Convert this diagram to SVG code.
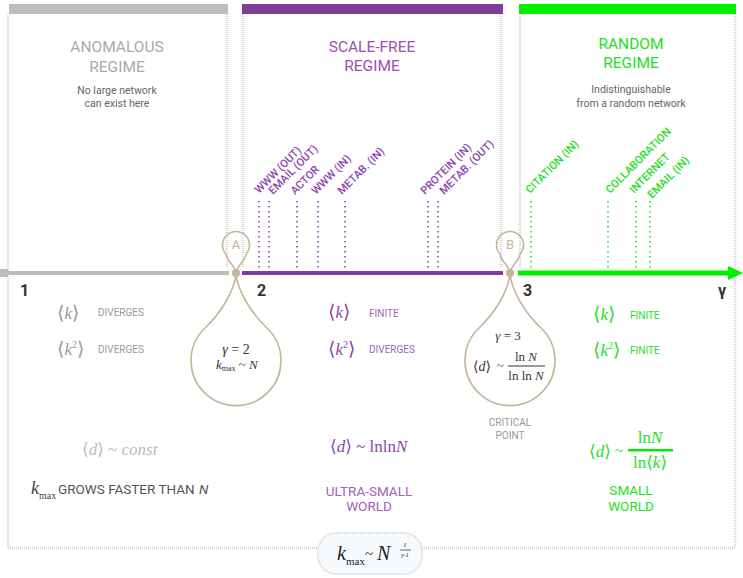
<svg xmlns="http://www.w3.org/2000/svg" width="743" height="578" viewBox="0 0 743 578">
<defs>
<style>
.sans{font-family:Roboto,"DejaVu Sans",sans-serif}
.m{font-family:"Liberation Serif","DejaVu Serif",serif}
.it{font-style:italic}
.br{font-family:"DejaVu Serif","Liberation Serif",serif;font-weight:normal}
.title{font-family:Roboto,"DejaVu Sans",sans-serif;font-size:15.5px;font-weight:normal;text-anchor:middle}
.sub{font-family:Roboto,"DejaVu Sans",sans-serif;font-size:10.5px;fill:#666;text-anchor:middle}
.lab{font-family:Roboto,"DejaVu Sans",sans-serif;font-size:10px}
.rot{font-family:Roboto,"DejaVu Sans",sans-serif;font-size:11px;font-weight:500}
.border{stroke:#d6d6d6;stroke-width:2.5;stroke-dasharray:1 1;fill:none}
.pdot{stroke:#8e44ad;stroke-width:1.6;stroke-dasharray:1.6 3.4}
.gdot{stroke:#22e622;stroke-width:1.6;stroke-dasharray:1.6 3.4}
.loop{fill:none;stroke:#c4b59b;stroke-width:1.6}
.tan{fill:#c4b59b}
.gray{fill:#999}
.purp{fill:#8e44ad}
.purl{fill:#a45fc0}
.grn{fill:#1ee01e}
.axn{font-family:Roboto,"DejaVu Sans",sans-serif;font-size:16px;font-weight:bold;fill:#333}
.world{font-family:Roboto,"DejaVu Sans",sans-serif;font-size:13.5px;text-anchor:middle}
</style>
</defs>
<rect width="743" height="578" fill="#ffffff"/>

<!-- panels -->
<g id="panel-anomalous">
<line class="border" x1="8" y1="14" x2="8" y2="548"/>
<line class="border" x1="227" y1="14" x2="227" y2="268"/>
<rect x="9" y="4" width="219" height="10" fill="#bdbdbd"/>
<text class="title" x="117" y="52" fill="#aaaaaa">ANOMALOUS</text>
<text class="title" x="117" y="72" fill="#aaaaaa">REGIME</text>
<text class="sub" x="117" y="94">No large network</text>
<text class="sub" x="117" y="107">can exist here</text>
</g>
<g id="panel-scalefree">
<line class="border" x1="243" y1="14" x2="243" y2="268"/>
<line class="border" x1="501" y1="14" x2="501" y2="268"/>
<rect x="242" y="4" width="261" height="10" fill="#7e3d96"/>
<text class="title" x="372" y="52" fill="#9a4fb6">SCALE-FREE</text>
<text class="title" x="372" y="71" fill="#9a4fb6">REGIME</text>
</g>
<g id="panel-random">
<line class="border" x1="520" y1="14" x2="520" y2="268"/>
<line class="border" x1="735" y1="14" x2="735" y2="548"/>
<rect x="519" y="4" width="217" height="10" fill="#00f000"/>
<text class="title" x="631" y="49" fill="#1ee01e">RANDOM</text>
<text class="title" x="631" y="68" fill="#1ee01e">REGIME</text>
<text class="sub" x="631" y="93">Indistinguishable</text>
<text class="sub" x="631" y="107">from a random network</text>
</g>
<g id="bottom-border">
<line class="border" x1="8" y1="548" x2="318" y2="548"/>
<line class="border" x1="422" y1="548" x2="735" y2="548"/>
</g>

<!-- axis -->
<g id="axis">
<rect x="0" y="269" width="8" height="8" fill="#bdbdbd"/>
<line x1="8" y1="273" x2="229" y2="273" stroke="#bdbdbd" stroke-width="4"/>
<line x1="242" y1="273" x2="503" y2="273" stroke="#7e3d96" stroke-width="4"/>
<line x1="518" y1="273" x2="730" y2="273" stroke="#00f000" stroke-width="5"/>
<polygon points="728,266 743,273 728,280" fill="#00f000"/>
<text class="axn" x="20" y="296">1</text>
<text class="axn" x="257" y="296">2</text>
<text class="axn" x="523" y="296">3</text>
<text class="axn" x="718" y="296">γ</text>
</g>

<!-- network markers -->
<g id="connectors">
<line class="pdot" x1="259" y1="201" x2="259" y2="270"/>
<line class="pdot" x1="269" y1="201" x2="269" y2="270"/>
<line class="pdot" x1="297" y1="201" x2="297" y2="270"/>
<line class="pdot" x1="318" y1="201" x2="318" y2="270"/>
<line class="pdot" x1="345" y1="201" x2="345" y2="270"/>
<line class="pdot" x1="428" y1="201" x2="428" y2="270"/>
<line class="pdot" x1="438" y1="201" x2="438" y2="270"/>
<line class="gdot" x1="531" y1="201" x2="531" y2="270"/>
<line class="gdot" x1="608" y1="201" x2="608" y2="270"/>
<line class="gdot" x1="636" y1="201" x2="636" y2="270"/>
<line class="gdot" x1="650" y1="201" x2="650" y2="270"/>
</g>
<g id="labels-sf" class="rot" fill="#8e44ad">
<text transform="translate(259,194) rotate(-45)">WWW (OUT)</text>
<text transform="translate(273,195) rotate(-45)">EMAIL (OUT)</text>
<text transform="translate(295,195) rotate(-45)">ACTOR</text>
<text transform="translate(316,195) rotate(-45)">WWW (IN)</text>
<text transform="translate(342,195) rotate(-45)">METAB. (IN)</text>
<text transform="translate(425,195) rotate(-45)">PROTEIN (IN)</text>
<text transform="translate(444,195) rotate(-45)">METAB. (OUT)</text>
</g>
<g id="labels-rand" class="rot" fill="#1ee01e">
<text transform="translate(530,194) rotate(-45)">CITATION (IN)</text>
<text transform="translate(610,194) rotate(-45)">COLLABORATION</text>
<text transform="translate(634,194) rotate(-45)">INTERNET</text>
<text transform="translate(652,199) rotate(-45)">EMAIL (IN)</text>
</g>

<!-- point A -->
<g id="point-A">
<path class="loop" d="M236,273 C235,265 227,262 226,254 A13.5,13.5 0 1 1 246,254 C245,262 237,265 236,273 Z"/>
<path class="loop" d="M236,273 C235,290 221,313 205,328 A45,45 0 1 0 267,328 C251,313 237,290 236,273 Z"/>
<circle cx="236" cy="273" r="4.2" class="tan"/>
<text class="sans tan" x="236" y="249" font-size="13" text-anchor="middle">A</text>
<text class="m" x="236" y="354" font-size="14" text-anchor="middle" fill="#333"><tspan class="it">γ</tspan> = 2</text>
<text class="m" x="216" y="369" font-size="13" fill="#333"><tspan class="it">k</tspan><tspan font-size="8" dy="2">max</tspan><tspan dy="-2"> ~ </tspan><tspan class="it">N</tspan></text>
</g>

<!-- point B -->
<g id="point-B">
<path class="loop" d="M510,273 C509,265 501,262 500,254 A13.5,13.5 0 1 1 520,254 C519,262 511,265 510,273 Z"/>
<path class="loop" d="M510,273 C509,290 495,313 479,328 A45,45 0 1 0 541,328 C525,313 511,290 510,273 Z"/>
<circle cx="510" cy="273" r="4.2" class="tan"/>
<text class="sans tan" x="510" y="249" font-size="13" text-anchor="middle">B</text>
<text class="m" x="508" y="340" font-size="13" text-anchor="middle" fill="#333"><tspan class="it">γ</tspan> = 3</text>
<text class="m" x="473" y="371" font-size="14" fill="#333"><tspan class="br">⟨</tspan><tspan class="it">d</tspan><tspan class="br">⟩</tspan></text>
<text class="m" x="497" y="370" font-size="12" fill="#333">~</text>
<text class="m" x="526" y="361" font-size="13" text-anchor="middle" fill="#333">ln <tspan class="it">N</tspan></text>
<line x1="508" y1="366" x2="545" y2="366" stroke="#333" stroke-width="1"/>
<text class="m" x="526" y="380" font-size="13" text-anchor="middle" fill="#333">ln ln <tspan class="it">N</tspan></text>
<text class="lab gray" x="510" y="426" text-anchor="middle">CRITICAL</text>
<text class="lab gray" x="510" y="439" text-anchor="middle">POINT</text>
</g>

<!-- anomalous properties -->
<g id="props-anomalous">
<text class="m" x="57" y="319" font-size="17" fill="#8f95a3"><tspan class="br" font-size="19" fill="#999">⟨</tspan><tspan class="it">k</tspan><tspan class="br" font-size="19" fill="#999">⟩</tspan></text>
<text class="lab gray" x="98" y="316">DIVERGES</text>
<text class="m" x="57" y="355" font-size="17" fill="#8f95a3"><tspan class="br" font-size="19" fill="#999">⟨</tspan><tspan class="it">k</tspan><tspan font-size="10" dy="-7">2</tspan><tspan class="br" font-size="19" fill="#999" dy="7">⟩</tspan></text>
<text class="lab gray" x="98" y="353">DIVERGES</text>
<text class="m" x="82" y="455" font-size="17" fill="#bbbbbb"><tspan class="br">⟨</tspan><tspan class="it">d</tspan><tspan class="br">⟩</tspan> ~ <tspan class="it">const</tspan></text>
<text class="m it" x="31" y="494" font-size="18" fill="#444">k</text>
<text class="m" x="39" y="499" font-size="10" fill="#444">max</text>
<text class="sans" x="58" y="494" font-size="13.5" fill="#555">GROWS FASTER THAN</text>
<text class="sans it" x="199" y="494" font-size="13.5" fill="#555">N</text>
</g>

<!-- scale-free properties -->
<g id="props-scalefree">
<text class="m purp" x="328" y="318" font-size="17"><tspan class="br" font-size="19">⟨</tspan><tspan class="it">k</tspan><tspan class="br" font-size="19">⟩</tspan></text>
<text class="lab purl" x="369" y="317">FINITE</text>
<text class="m purp" x="328" y="355" font-size="17"><tspan class="br" font-size="19">⟨</tspan><tspan class="it">k</tspan><tspan font-size="10" dy="-7">2</tspan><tspan class="br" font-size="19" dy="7">⟩</tspan></text>
<text class="lab purl" x="369" y="353">DIVERGES</text>
<text class="m purp" x="330" y="452" font-size="17"><tspan class="br">⟨</tspan><tspan class="it">d</tspan><tspan class="br">⟩</tspan> ~ lnln<tspan class="it">N</tspan></text>
<text class="world purl" x="369" y="496">ULTRA-SMALL</text>
<text class="world purl" x="369" y="511">WORLD</text>
</g>

<!-- random properties -->
<g id="props-random">
<text class="m grn" x="593" y="320" font-size="17"><tspan class="br" font-size="19">⟨</tspan><tspan class="it">k</tspan><tspan class="br" font-size="19">⟩</tspan></text>
<text class="lab grn" x="630" y="319">FINITE</text>
<text class="m grn" x="593" y="356" font-size="17"><tspan class="br" font-size="19">⟨</tspan><tspan class="it">k</tspan><tspan font-size="10" dy="-7">2</tspan><tspan class="br" font-size="19" dy="7">⟩</tspan></text>
<text class="lab grn" x="630" y="354">FINITE</text>
<text class="m grn" x="589" y="457" font-size="17"><tspan class="br">⟨</tspan><tspan class="it">d</tspan><tspan class="br">⟩</tspan></text>
<text class="m grn" x="615" y="456" font-size="15">~</text>
<rect x="628" y="449" width="45" height="2.5" fill="#00f000"/>
<text class="m grn" x="650" y="443" font-size="17" text-anchor="middle">ln<tspan class="it">N</tspan></text>
<text class="m grn" x="650" y="468" font-size="17" text-anchor="middle">ln<tspan class="br">⟨</tspan><tspan class="it">k</tspan><tspan class="br">⟩</tspan></text>
<text class="world grn" x="631" y="495">SMALL</text>
<text class="world grn" x="631" y="511">WORLD</text>
</g>

<!-- formula box -->
<g id="formula">
<rect x="318" y="533" width="104" height="41" rx="18" fill="#f7fafc" stroke="#d6d6d6" stroke-width="2" stroke-dasharray="1 1"/>
<text class="m it" x="337" y="560" font-size="20" fill="#222">k</text>
<text class="m" x="346" y="565" font-size="11" fill="#222">max</text>
<text class="m" x="365" y="559" font-size="15" fill="#222">~</text>
<text class="m it" x="377" y="560" font-size="20" fill="#222">N</text>
<text class="m it" x="405" y="547" font-size="7" fill="#222" text-anchor="middle">1</text>
<line x1="400" y1="550" x2="411" y2="550" stroke="#222" stroke-width="0.7"/>
<text class="m it" x="405" y="557" font-size="6" fill="#222" text-anchor="middle">γ-1</text>
</g>
</svg>
